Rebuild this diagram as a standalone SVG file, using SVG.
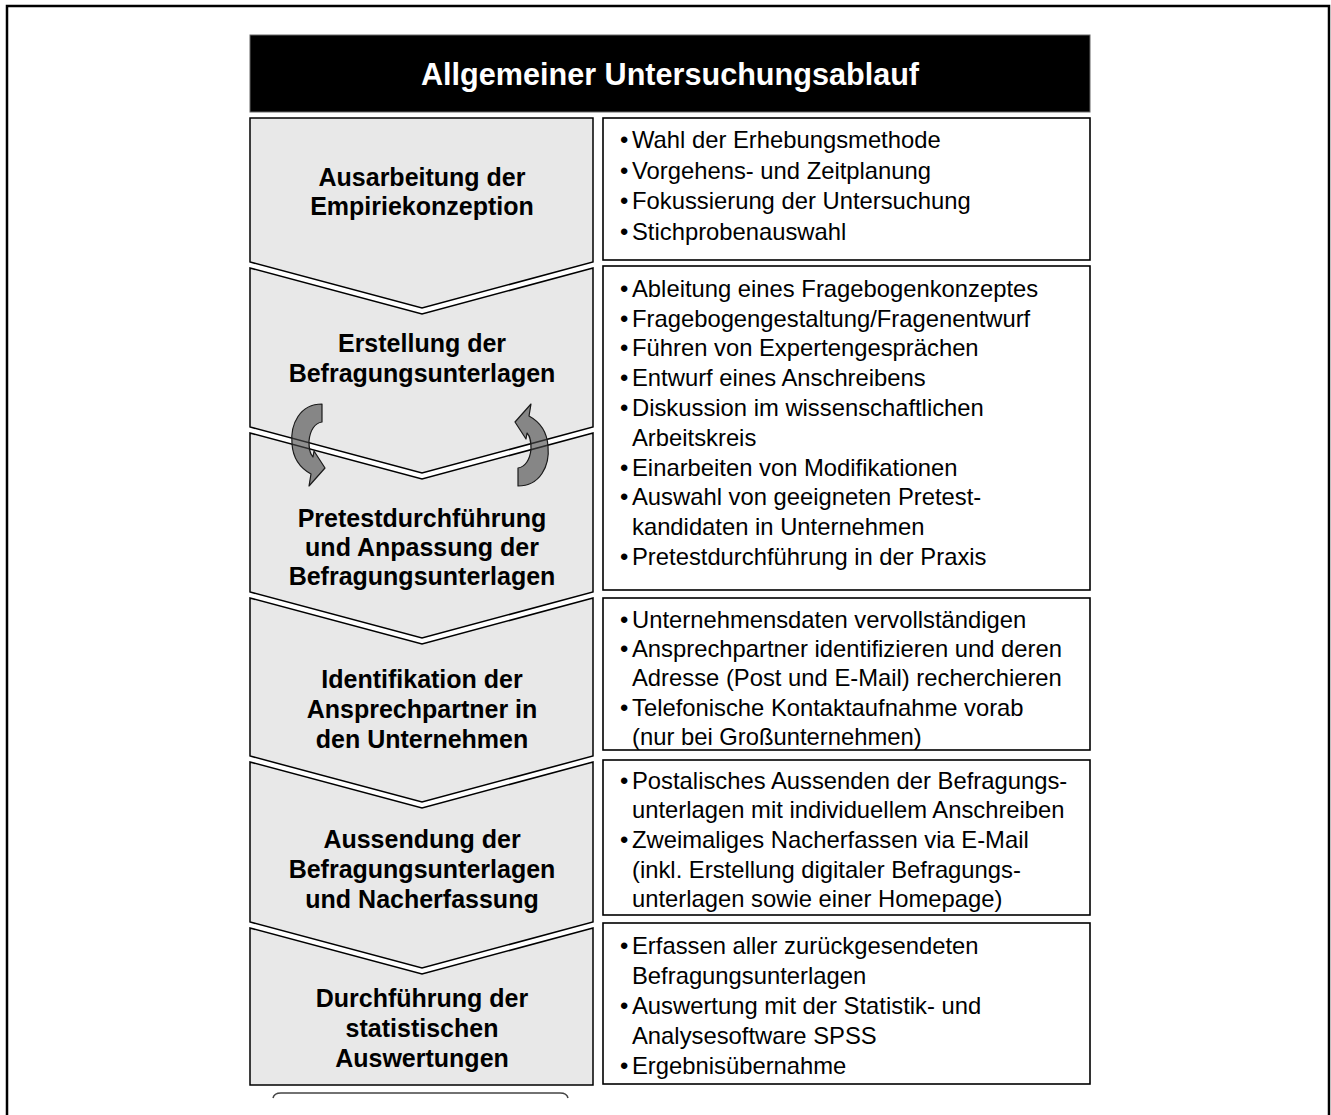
<svg xmlns="http://www.w3.org/2000/svg" width="1331" height="1115" viewBox="0 0 1331 1115">
<style>
.chev{fill:#e8e8e8;stroke:#000;stroke-width:1.5;stroke-linejoin:miter}
.box{fill:#fff;stroke:#000;stroke-width:1.6}
.h{font-family:"Liberation Sans",Arial,sans-serif;font-weight:bold;font-size:25px;text-anchor:middle;fill:#000}
.t{font-family:"Liberation Sans",Arial,sans-serif;font-size:23.8px;fill:#000}
.arr{fill:#4a4a4a;fill-opacity:0.62;stroke:#1a1a1a;stroke-width:1.2;stroke-linejoin:round}
</style>
<rect x="7" y="6" width="1322" height="1125" fill="#fff" stroke="#000" stroke-width="2.5"/>
<g id="header">
<rect x="250" y="35" width="840" height="77" fill="#000" stroke="#666" stroke-width="1"/>
<text x="670" y="85" font-family="Liberation Sans, Arial, sans-serif" font-weight="bold" font-size="30.6" fill="#fff" text-anchor="middle">Allgemeiner Untersuchungsablauf</text>
</g>
<g id="step1">
<path class="chev" d="M250,118 H593 V262 L422,308 L250,262 Z"/>
<text class="h" x="422" y="186">Ausarbeitung der</text>
<text class="h" x="422" y="215">Empiriekonzeption</text>
</g>
<g id="step2">
<path class="chev" d="M250,268 L422,314 L593,268 V427 L422,473 L250,427 Z"/>
<text class="h" x="422" y="352">Erstellung der</text>
<text class="h" x="422" y="382">Befragungsunterlagen</text>
</g>
<g id="step3">
<path class="chev" d="M250,433 L422,479 L593,433 V592 L422,638 L250,592 Z"/>
<text class="h" x="422" y="527">Pretestdurchführung</text>
<text class="h" x="422" y="556">und Anpassung der</text>
<text class="h" x="422" y="585">Befragungsunterlagen</text>
</g>
<g id="step4">
<path class="chev" d="M250,598 L422,644 L593,598 V756 L422,802 L250,756 Z"/>
<text class="h" x="422" y="688">Identifikation der</text>
<text class="h" x="422" y="718">Ansprechpartner in</text>
<text class="h" x="422" y="748">den Unternehmen</text>
</g>
<g id="step5">
<path class="chev" d="M250,762 L422,808 L593,762 V922 L422,968 L250,922 Z"/>
<text class="h" x="422" y="848">Aussendung der</text>
<text class="h" x="422" y="878">Befragungsunterlagen</text>
<text class="h" x="422" y="908">und Nacherfassung</text>
</g>
<g id="step6">
<path class="chev" d="M250,928 L422,974 L593,928 V1085 H250 Z"/>
<text class="h" x="422" y="1007">Durchführung der</text>
<text class="h" x="422" y="1037">statistischen</text>
<text class="h" x="422" y="1067">Auswertungen</text>
</g>
<path d="M273,1098 Q274,1093 281,1093 L560,1093 Q567,1093 568,1098" fill="none" stroke="#444" stroke-width="1.5"/>
<g id="connectors">
<path id="loop-left" class="arr" d="M322,404 C300,404 290,424 292,444 C293,458 300,468 311,474 L309,486 L325,468 L314,451 L313,457 C309,453 309,447 309,441 C310,430 315,423 322,422 Z"/>
<path id="loop-right" class="arr" transform="rotate(180 420 445)" d="M322,404 C300,404 290,424 292,444 C293,458 300,468 311,474 L309,486 L325,468 L314,451 L313,457 C309,453 309,447 309,441 C310,430 315,423 322,422 Z"/>
</g>
<g id="box1">
<rect class="box" x="603" y="118" width="487" height="142"/>
<text class="t" x="620" y="148">•</text><text class="t" x="632" y="148">Wahl der Erhebungsmethode</text>
<text class="t" x="620" y="179">•</text><text class="t" x="632" y="179">Vorgehens- und Zeitplanung</text>
<text class="t" x="620" y="209">•</text><text class="t" x="632" y="209">Fokussierung der Untersuchung</text>
<text class="t" x="620" y="240">•</text><text class="t" x="632" y="240">Stichprobenauswahl</text>
</g>
<g id="box2">
<rect class="box" x="603" y="266" width="487" height="324"/>
<text class="t" x="620" y="297">•</text><text class="t" x="632" y="297">Ableitung eines Fragebogenkonzeptes</text>
<text class="t" x="620" y="327">•</text><text class="t" x="632" y="327">Fragebogengestaltung/Fragenentwurf</text>
<text class="t" x="620" y="356">•</text><text class="t" x="632" y="356">Führen von Expertengesprächen</text>
<text class="t" x="620" y="386">•</text><text class="t" x="632" y="386">Entwurf eines Anschreibens</text>
<text class="t" x="620" y="416">•</text><text class="t" x="632" y="416">Diskussion im wissenschaftlichen</text>
<text class="t" x="632" y="446">Arbeitskreis</text>
<text class="t" x="620" y="476">•</text><text class="t" x="632" y="476">Einarbeiten von Modifikationen</text>
<text class="t" x="620" y="505">•</text><text class="t" x="632" y="505">Auswahl von geeigneten Pretest-</text>
<text class="t" x="632" y="535">kandidaten in Unternehmen</text>
<text class="t" x="620" y="565">•</text><text class="t" x="632" y="565">Pretestdurchführung in der Praxis</text>
</g>
<g id="box3">
<rect class="box" x="603" y="598" width="487" height="152"/>
<text class="t" x="620" y="628">•</text><text class="t" x="632" y="628">Unternehmensdaten vervollständigen</text>
<text class="t" x="620" y="657">•</text><text class="t" x="632" y="657">Ansprechpartner identifizieren und deren</text>
<text class="t" x="632" y="686">Adresse (Post und E-Mail) recherchieren</text>
<text class="t" x="620" y="716">•</text><text class="t" x="632" y="716">Telefonische Kontaktaufnahme vorab</text>
<text class="t" x="632" y="745">(nur bei Großunternehmen)</text>
</g>
<g id="box4">
<rect class="box" x="603" y="760" width="487" height="155"/>
<text class="t" x="620" y="789">•</text><text class="t" x="632" y="789">Postalisches Aussenden der Befragungs-</text>
<text class="t" x="632" y="818">unterlagen mit individuellem Anschreiben</text>
<text class="t" x="620" y="848">•</text><text class="t" x="632" y="848">Zweimaliges Nacherfassen via E-Mail</text>
<text class="t" x="632" y="878">(inkl. Erstellung digitaler Befragungs-</text>
<text class="t" x="632" y="907">unterlagen sowie einer Homepage)</text>
</g>
<g id="box5">
<rect class="box" x="603" y="923" width="487" height="161"/>
<text class="t" x="620" y="954">•</text><text class="t" x="632" y="954">Erfassen aller zurückgesendeten</text>
<text class="t" x="632" y="984">Befragungsunterlagen</text>
<text class="t" x="620" y="1014">•</text><text class="t" x="632" y="1014">Auswertung mit der Statistik- und</text>
<text class="t" x="632" y="1044">Analysesoftware SPSS</text>
<text class="t" x="620" y="1074">•</text><text class="t" x="632" y="1074">Ergebnisübernahme</text>
</g>
</svg>
